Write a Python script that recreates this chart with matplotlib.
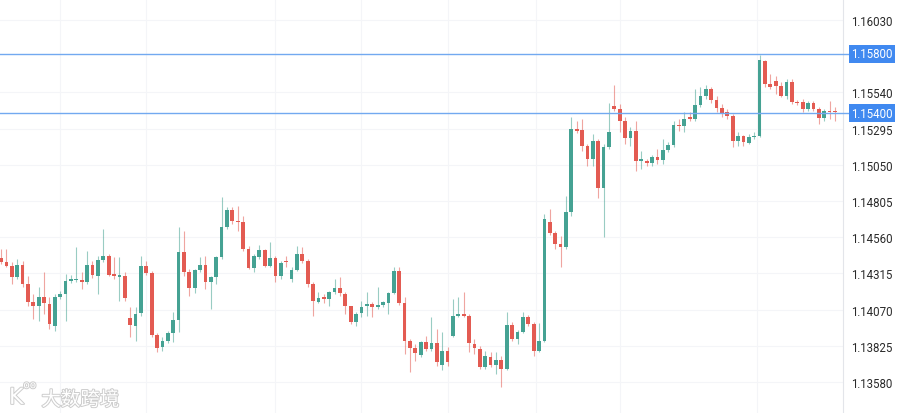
import matplotlib
matplotlib.use("Agg")
import matplotlib.pyplot as plt
import matplotlib.patheffects as pe
import numpy as np

# OHLC (EUR/USD style quotes), one entry per candle
opens = [1.14419, 1.14392, 1.14365, 1.14290, 1.14371, 1.14243, 1.14121, 1.14094, 1.14154, 1.14108,
         1.13959, 1.14154, 1.14175, 1.14263, 1.14270, 1.14270, 1.14256, 1.14371, 1.14297, 1.14405,
         1.14432, 1.14310, 1.14290, 1.14297, 1.14013, 1.13959, 1.14047, 1.14365, 1.14317, 1.13898,
         1.13816, 1.13857, 1.13911, 1.13999, 1.14459, 1.14324, 1.14215, 1.14337, 1.14371, 1.14256,
         1.14290, 1.14425, 1.14629, 1.14744, 1.14669, 1.14663, 1.14480, 1.14351, 1.14425, 1.14473,
         1.14365, 1.14419, 1.14297, 1.14398, 1.14276, 1.14337, 1.14446, 1.14398, 1.14243, 1.14121,
         1.14154, 1.14142, 1.14188, 1.14215, 1.14175, 1.14094, 1.13986, 1.14047, 1.14094, 1.14108,
         1.14088, 1.14101, 1.14115, 1.14182, 1.14331, 1.14115, 1.13857, 1.13810, 1.13762, 1.13850,
         1.13803, 1.13844, 1.13694, 1.13789, 1.13891, 1.14027, 1.14040, 1.14027, 1.13837, 1.13803,
         1.13681, 1.13749, 1.13694, 1.13728, 1.13667, 1.13966, 1.13871, 1.13918, 1.14020, 1.13972,
         1.13789, 1.13857, 1.14663, 1.14588, 1.14514, 1.14493, 1.14730, 1.15292, 1.15285, 1.15177,
         1.15089, 1.15211, 1.14893, 1.15170, 1.15448, 1.15428, 1.15346, 1.15231, 1.15279, 1.15075,
         1.15075, 1.15062, 1.15102, 1.15082, 1.15150, 1.15184, 1.15319, 1.15312, 1.15373, 1.15360,
         1.15455, 1.15516, 1.15563, 1.15488, 1.15434, 1.15407, 1.15380, 1.15211, 1.15245, 1.15197,
         1.15238, 1.15245, 1.15752, 1.15597, 1.15617, 1.15583, 1.15516, 1.15610, 1.15475, 1.15475,
         1.15428, 1.15468, 1.15428, 1.15367, 1.15414, 1.15414]
highs = [1.14480, 1.14480, 1.14392, 1.14412, 1.14398, 1.14297, 1.14175, 1.14222, 1.14324, 1.14154,
         1.14175, 1.14195, 1.14310, 1.14304, 1.14493, 1.14324, 1.14466, 1.14398, 1.14432, 1.14615,
         1.14446, 1.14425, 1.14425, 1.14324, 1.14088, 1.14088, 1.14432, 1.14398, 1.14331, 1.13911,
         1.13884, 1.13925, 1.14054, 1.14629, 1.14602, 1.14344, 1.14344, 1.14425, 1.14432, 1.14297,
         1.14432, 1.14832, 1.14764, 1.14764, 1.14771, 1.14703, 1.14500, 1.14446, 1.14507, 1.14480,
         1.14527, 1.14432, 1.14398, 1.14432, 1.14358, 1.14500, 1.14493, 1.14412, 1.14256, 1.14188,
         1.14175, 1.14195, 1.14276, 1.14290, 1.14188, 1.14094, 1.14054, 1.14128, 1.14188, 1.14121,
         1.14222, 1.14128, 1.14188, 1.14358, 1.14358, 1.14154, 1.13871, 1.13837, 1.13857, 1.13891,
         1.14020, 1.13938, 1.13918, 1.13816, 1.14142, 1.14154, 1.14188, 1.14040, 1.13871, 1.13823,
         1.13789, 1.13783, 1.13783, 1.13755, 1.14054, 1.13986, 1.13932, 1.14054, 1.14033, 1.13986,
         1.13979, 1.14717, 1.14751, 1.14602, 1.14568, 1.14839, 1.15373, 1.15346, 1.15360, 1.15190,
         1.15258, 1.15224, 1.15190, 1.15468, 1.15590, 1.15462, 1.15373, 1.15306, 1.15346, 1.15143,
         1.15089, 1.15116, 1.15157, 1.15224, 1.15204, 1.15346, 1.15360, 1.15407, 1.15407, 1.15563,
         1.15576, 1.15590, 1.15576, 1.15516, 1.15462, 1.15428, 1.15394, 1.15272, 1.15251, 1.15258,
         1.15272, 1.15793, 1.15759, 1.15664, 1.15651, 1.15610, 1.15630, 1.15630, 1.15488, 1.15495,
         1.15481, 1.15481, 1.15441, 1.15428, 1.15481, 1.15441]
lows = [1.14378, 1.14358, 1.14243, 1.14276, 1.14222, 1.14094, 1.14006, 1.13993, 1.14040, 1.13938,
        1.13925, 1.14142, 1.13993, 1.14249, 1.14256, 1.14209, 1.14243, 1.14283, 1.14175, 1.14392,
        1.14297, 1.14276, 1.14128, 1.14128, 1.13884, 1.13857, 1.14027, 1.14304, 1.13884, 1.13783,
        1.13789, 1.13844, 1.13850, 1.13918, 1.14297, 1.14161, 1.14182, 1.14324, 1.14209, 1.14074,
        1.14243, 1.14412, 1.14615, 1.14649, 1.14602, 1.14466, 1.14344, 1.14324, 1.14412, 1.14358,
        1.14358, 1.14256, 1.14276, 1.14358, 1.14256, 1.14331, 1.14385, 1.14222, 1.14027, 1.14115,
        1.14115, 1.14094, 1.14175, 1.14161, 1.14040, 1.13972, 1.13959, 1.14020, 1.14027, 1.14020,
        1.14074, 1.14088, 1.14040, 1.14175, 1.14101, 1.13769, 1.13647, 1.13722, 1.13749, 1.13789,
        1.13789, 1.13688, 1.13661, 1.13688, 1.13884, 1.14020, 1.14020, 1.13783, 1.13769, 1.13667,
        1.13667, 1.13681, 1.13633, 1.13545, 1.13661, 1.13857, 1.13837, 1.13911, 1.13959, 1.13755,
        1.13783, 1.13850, 1.14575, 1.14480, 1.14358, 1.14480, 1.14703, 1.15265, 1.15143, 1.15041,
        1.15041, 1.14825, 1.14561, 1.15157, 1.15414, 1.15272, 1.15190, 1.15177, 1.15007, 1.15021,
        1.15041, 1.15041, 1.15055, 1.15055, 1.15136, 1.15170, 1.15279, 1.15272, 1.15346, 1.15346,
        1.15441, 1.15495, 1.15468, 1.15407, 1.15373, 1.15360, 1.15170, 1.15177, 1.15177, 1.15190,
        1.15224, 1.15238, 1.15576, 1.15563, 1.15529, 1.15509, 1.15495, 1.15462, 1.15455, 1.15407,
        1.15414, 1.15414, 1.15326, 1.15346, 1.15360, 1.15346]
closes = [1.14392, 1.14365, 1.14290, 1.14371, 1.14243, 1.14121, 1.14094, 1.14154, 1.14115, 1.13972,
          1.14154, 1.14175, 1.14263, 1.14276, 1.14276, 1.14256, 1.14371, 1.14304, 1.14405, 1.14432,
          1.14304, 1.14297, 1.14304, 1.14148, 1.13966, 1.14040, 1.14365, 1.14317, 1.13898, 1.13810,
          1.13857, 1.13911, 1.13999, 1.14459, 1.14324, 1.14215, 1.14337, 1.14371, 1.14256, 1.14290,
          1.14425, 1.14629, 1.14744, 1.14669, 1.14663, 1.14480, 1.14351, 1.14432, 1.14473, 1.14365,
          1.14419, 1.14297, 1.14385, 1.14392, 1.14337, 1.14446, 1.14398, 1.14243, 1.14128, 1.14148,
          1.14142, 1.14188, 1.14215, 1.14182, 1.14094, 1.13986, 1.14040, 1.14088, 1.14108, 1.14088,
          1.14101, 1.14121, 1.14182, 1.14331, 1.14115, 1.13857, 1.13810, 1.13776, 1.13850, 1.13803,
          1.13844, 1.13715, 1.13789, 1.13715, 1.14027, 1.14040, 1.14027, 1.13844, 1.13810, 1.13681,
          1.13755, 1.13694, 1.13728, 1.13667, 1.13966, 1.13871, 1.13918, 1.14020, 1.13972, 1.13789,
          1.13857, 1.14683, 1.14588, 1.14514, 1.14493, 1.14730, 1.15292, 1.15279, 1.15177, 1.15089,
          1.15211, 1.14893, 1.15170, 1.15272, 1.15428, 1.15346, 1.15231, 1.15279, 1.15075, 1.15089,
          1.15062, 1.15102, 1.15082, 1.15150, 1.15184, 1.15319, 1.15312, 1.15360, 1.15360, 1.15455,
          1.15516, 1.15563, 1.15488, 1.15434, 1.15400, 1.15380, 1.15211, 1.15245, 1.15204, 1.15238,
          1.15245, 1.15757, 1.15597, 1.15576, 1.15583, 1.15516, 1.15610, 1.15475, 1.15468, 1.15428,
          1.15468, 1.15428, 1.15367, 1.15414, 1.15407, 1.15407]

price_ticks = [1.16030, 1.15540, 1.15295, 1.15050, 1.14805, 1.14560, 1.14315, 1.14070, 1.13825, 1.13580]
level_lines = [1.15800, 1.15400]

up_color = '#45a293'
down_color = '#e35b52'
line_color = '#72a9f0'
label_bg = '#4089f0'

o = np.array(opens)
h = np.array(highs)
l = np.array(lows)
c = np.array(closes)
idx = np.arange(len(o))
colors = np.where(c >= o, up_color, down_color)

fig = plt.figure(figsize=(9, 4.14), dpi=100)
ax = fig.add_axes([0, 0, 843 / 900, 1])
ax.set_xlim(-0.19, 156.5)
ax.set_ylim(1.13370, 1.16172)

# faint grid
for t in price_ticks:
    ax.axhline(t, color='#f4f5f8', lw=0.8, zorder=0)
for gx in [11, 27, 51, 67, 83, 99.5, 115, 140.5]:
    ax.axvline(gx, color='#f4f5f8', lw=0.8, zorder=0)

# candles
ax.vlines(idx, l, h, colors=colors, lw=0.8, alpha=0.55, zorder=2)
bottoms = np.minimum(o, c)
heights = np.maximum(np.abs(c - o), 0.00007)
ax.bar(idx, heights, bottom=bottoms, width=0.7, color=colors, zorder=3, linewidth=0)

# horizontal levels with price tags
for lv in level_lines:
    ax.axhline(lv, xmin=0, xmax=848 / 843, color=line_color, lw=1.0, zorder=4, clip_on=False)
    ax.annotate(f'{lv:.5f}', xy=(1.0, lv), xycoords=('axes fraction', 'data'),
                xytext=(6, 0), textcoords='offset points', ha='left', va='center',
                fontsize=8.3, color='white', family='Roboto', annotation_clip=False,
                bbox=dict(boxstyle='square,pad=0.22', fc=label_bg, ec='none'), zorder=6)

# right price scale
ax.yaxis.tick_right()
ax.set_yticks(price_ticks)
ax.set_yticklabels([f'{t:.5f}' for t in price_ticks], family='Roboto', fontsize=8.3, color='#2a2a2a')
ax.tick_params(axis='y', length=0, pad=6)
ax.set_xticks([])
for side in ['top', 'bottom', 'left']:
    ax.spines[side].set_visible(False)
ax.spines['right'].set_color('#e3e5ea')
ax.spines['right'].set_linewidth(0.8)

# watermark
wm = [pe.withStroke(linewidth=1.4, foreground='#cdcdcd')]
fig.text(0.010, 0.022, 'K', fontsize=16, color='white', family='DejaVu Sans', path_effects=wm)
fig.text(0.026, 0.060, 'oo', fontsize=7.5, color='white', family='DejaVu Sans', path_effects=wm)
fig.text(0.046, 0.018, '大数跨境', fontsize=14, color='white', family='Noto Sans CJK SC',
         path_effects=wm)

fig.savefig('out.png', dpi=100)
